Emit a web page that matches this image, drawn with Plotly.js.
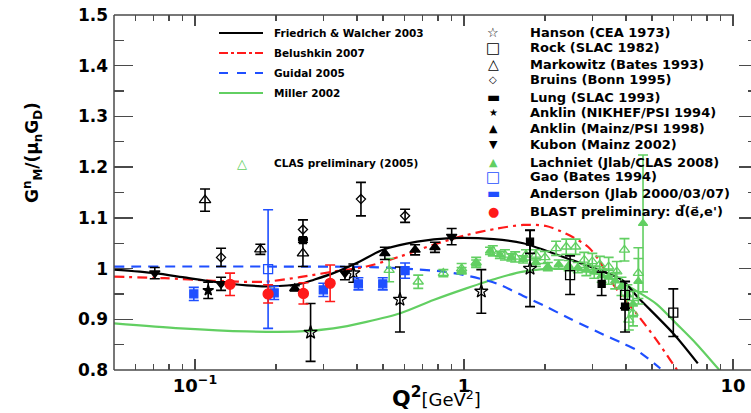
<!DOCTYPE html>
<html><head><meta charset="utf-8">
<script src="https://cdn.plot.ly/plotly-3.0.1.min.js"></script>
<style>html,body{margin:0;padding:0;overflow:hidden;background:#fff}#chart{width:770px;height:413px}</style>
</head><body><div id="chart"></div>
<script>
// ---------- theory curves ----------
const fwQ = [0.05,0.071,0.09,0.117,0.156,0.19,0.247,0.277,0.327,0.41,0.50,0.67,0.89,1.29,1.66,2.48,3.29,3.88,4.4,6.0,7.4];
const fwG = [0.998,0.991,0.983,0.974,0.967,0.965,0.970,0.978,0.991,1.014,1.037,1.053,1.060,1.058,1.050,1.018,0.994,0.977,0.945,0.872,0.813];
const beQ = [0.05,0.077,0.117,0.18,0.245,0.327,0.434,0.58,0.77,1.02,1.33,1.66,2.02,2.41,2.89,3.2,3.5,3.88,4.37,5.2,5.84,6.2];
const beG = [0.984,0.981,0.976,0.974,0.983,0.994,1.004,1.024,1.047,1.066,1.079,1.086,1.084,1.068,1.043,1.014,0.977,0.945,0.912,0.859,0.820,0.800];
const guQ = [0.05,0.2,0.45,0.6,0.84,1.05,1.33,1.66,2.0,2.48,3.29,3.88,4.39,5.37];
const guG = [1.004,1.004,1.003,1.000,0.994,0.985,0.970,0.946,0.926,0.901,0.870,0.853,0.839,0.803];
const miQ = [0.05,0.0885,0.156,0.245,0.327,0.434,0.58,0.77,1.02,1.33,1.66,2.2,2.94,3.88,4.4,5.2,6.2,7.3,8.9];
const miG = [0.892,0.882,0.876,0.876,0.882,0.895,0.912,0.938,0.961,0.981,0.994,1.000,0.994,0.971,0.955,0.930,0.890,0.852,0.800];

// ---------- data sets ----------
const hansonQ = [0.269,0.388,0.578,1.16,1.76];
const hansonG = [0.874,0.991,0.939,0.955,1.000];
const hansonE = [0.057,0.018,0.064,0.043,0.075];
const rockQ = [2.48,3.97,6.0];
const rockG = [0.987,0.948,0.913];
const rockE = [0.038,0.026,0.047];
const markQ = [0.109,0.175,0.252];
const markG = [1.135,1.038,1.030];
const markE = [0.022,0.010,0.026];
const bruinsQ = [0.125,0.252,0.414,0.604];
const bruinsG = [1.022,1.077,1.137,1.104];
const bruinsE = [0.018,0.019,0.033,0.013];
const lungQ = [0.252,1.76,3.25,3.97];
const lungG = [1.056,1.053,0.970,0.925];
const lungE = [0.004,0.023,0.023,0.050];
const anklinNQ = [0.112];
const anklinNG = [0.957];
const anklinNE = [0.016];
const anklinMQ = [0.235,0.508,0.658,0.780];
const anklinMG = [0.961,1.030,1.037,1.042];
const anklinME = [0.005,0.012,0.010,0.010];
const kubonQ = [0.0709,0.125,0.361,0.90];
const kubonG = [0.991,0.970,0.991,1.063];
const kubonE = [0.011,0.013,0.013,0.016];
const lachQ = [0.98,1.11,1.25,1.36,1.50,1.66,1.85,2.05,2.25,2.45,2.65,2.85,3.05,3.25,3.45,3.65,3.85,4.05,4.25,4.45,4.63];
const lachG = [0.996,1.010,1.035,1.027,1.022,1.018,1.012,1.004,1.008,1.006,1.002,0.997,0.993,0.986,0.983,0.976,0.965,0.948,0.930,0.975,1.089];
const lachE = [0.006,0.007,0.007,0.007,0.007,0.007,0.008,0.008,0.009,0.010,0.010,0.011,0.012,0.013,0.014,0.016,0.018,0.020,0.025,0.045,0.135];
const gaoQ = [0.187];
const gaoG = [0.999];
const gaoE = [0.117];
const andQ = [0.099,0.197,0.300,0.405,0.499,0.604];
const andG = [0.950,0.952,0.958,0.970,0.970,0.996];
const andE = [0.013,0.013,0.013,0.012,0.012,0.015];
const blastQ = [0.135,0.187,0.253,0.318];
const blastG = [0.969,0.950,0.951,0.971];
const blastE = [0.022,0.018,0.021,0.036];
const clasQ = [0.527,0.676,0.838,0.98,1.11,1.28,1.42,1.55,1.70,1.85,2.0,2.2,2.4,2.6,2.8,3.0,3.2,3.45,3.7,3.95,4.1,4.25,4.45];
const clasG = [0.997,0.974,0.991,1.000,1.012,1.035,1.027,1.023,1.027,1.027,1.022,1.040,1.043,1.043,1.017,1.014,1.008,1.004,0.994,1.037,0.899,0.912,0.991];
const clasE = [0.023,0.013,0.007,0.010,0.010,0.010,0.010,0.010,0.010,0.010,0.012,0.014,0.015,0.015,0.015,0.016,0.016,0.018,0.020,0.022,0.020,0.025,0.050];

// ---------- ticks / labels ----------
const yTickVals = [0.8,0.9,1.0,1.1,1.2,1.3,1.4,1.5];
const yTickText = ['0.8','0.9','1','1.1','1.2','1.3','1.4','1.5'];
const xTickVals = [0.1,1,10];
const xTickText = ['10<sup>\u22121</sup>','1','10'];
const xMinorVals = [0.06,0.07,0.08,0.09,0.2,0.3,0.4,0.5,0.6,0.7,0.8,0.9,2,3,4,5,6,7,8,9];

const lineLegend = ['Friedrich & Walcher 2003','Belushkin 2007','Guidal 2005','Miller 2002'];
const markerLegend = ['Hanson (CEA 1973)','Rock (SLAC 1982)','Markowitz (Bates 1993)','Bruins (Bonn 1995)',
  'Lung (SLAC 1993)','Anklin (NIKHEF/PSI 1994)','Anklin (Mainz/PSI 1998)','Kubon (Mainz 2002)',
  'Lachniet (Jlab/CLAS 2008)','Gao (Bates 1994)','Anderson (Jlab 2000/03/07)',
  'BLAST preliminary: d\u20D7(e\u20D7,e\')'];
const clasLabel = 'CLAS preliminary (2005)';

// ---------- styling ----------
const BLACK='#000000', RED='#ff1a1a', BLUE='#1f4fff', GREEN='#62cf62';
const F = 'DejaVu Sans, Verdana, sans-serif';

function curve(x,y,color,dash){
  return {x:x,y:y,type:'scatter',mode:'lines',line:{color:color,width:2.2,dash:dash,shape:'spline',smoothing:0.8},hoverinfo:'skip',showlegend:false};
}
function pts(x,y,e,symbol,color,size,ecolor){
  return {x:x,y:y,type:'scatter',mode:'markers',showlegend:false,
    marker:{symbol:symbol,color:color,size:size,line:{color:color,width:1.3}},
    error_y:{type:'data',array:e,visible:true,color:ecolor||color,thickness:1.6,width:5}};
}

const traces = [
  curve(miQ,miG,GREEN,'solid'),
  curve(guQ,guG,BLUE,'10px,7px'),
  curve(beQ,beG,RED,'10px,5px,3px,5px'),
  curve(fwQ,fwG,BLACK,'solid'),
  pts(clasQ,clasG,clasE,'triangle-up-open',GREEN,9),
  pts(lachQ,lachG,lachE,'triangle-up',GREEN,8),
  pts(hansonQ,hansonG,hansonE,'star-open',BLACK,10),
  pts(rockQ,rockG,rockE,'square-open',BLACK,9),
  pts(markQ,markG,markE,'triangle-up-open',BLACK,10),
  pts(bruinsQ,bruinsG,bruinsE,'diamond-open',BLACK,7),
  pts(lungQ,lungG,lungE,'square',BLACK,7),
  pts(anklinNQ,anklinNG,anklinNE,'star',BLACK,8),
  pts(anklinMQ,anklinMG,anklinME,'triangle-up',BLACK,9),
  pts(kubonQ,kubonG,kubonE,'triangle-down',BLACK,9),
  pts(gaoQ,gaoG,gaoE,'square-open',BLUE,9),
  pts(andQ,andG,andE,'square',BLUE,8),
  pts(blastQ,blastG,blastE,'circle',RED,10)
];

// layout geometry (pixels)
const L=114, T=15, PW=644, PH=355;
const px = p => (p-L)/PW;
const py = p => (T+PH-p)/PH;

const shapes = [
  {type:'line',xref:'paper',yref:'paper',x0:0,x1:0,y0:0,y1:1,line:{color:'#4a4a4a',width:1.5}},
  {type:'line',xref:'paper',yref:'paper',x0:0,x1:1,y0:0,y1:0,line:{color:'#4a4a4a',width:1.5}},
  {type:'line',xref:'paper',yref:'paper',x0:0,x1:px(734),y0:1,y1:1,line:{color:'#4a4a4a',width:1.5}}
];
const annotations = [];
const lineKeys = [[BLACK,'solid'],[RED,'dashdot'],[BLUE,'dash'],[GREEN,'solid']];
const lineKeyY = [33,53,73,93];
lineLegend.forEach((t,i)=>{
  shapes.push({type:'line',xref:'paper',yref:'paper',x0:px(219),x1:px(263),y0:py(lineKeyY[i]),y1:py(lineKeyY[i]),
    line:{color:lineKeys[i][0],width:2.2,dash:lineKeys[i][1]}});
  annotations.push({xref:'paper',yref:'paper',x:px(272),y:py(lineKeyY[i]),xanchor:'left',yanchor:'middle',showarrow:false,
    text:'<b>'+t+'</b>',font:{family:F,size:10.5,color:'#000'}});
});
annotations.push({xref:'paper',yref:'paper',x:px(242),y:py(163),xanchor:'center',yanchor:'middle',showarrow:false,
  text:'\u25B3',font:{family:F,size:13,color:GREEN}});
annotations.push({xref:'paper',yref:'paper',x:px(272),y:py(163),xanchor:'left',yanchor:'middle',showarrow:false,
  text:'<b>'+clasLabel+'</b>',font:{family:F,size:10.5,color:'#000'}});

const glyphs = [['\u2606',BLACK,13],['\u25A1',BLACK,15],['\u25B3',BLACK,14],['\u25C7',BLACK,10],['\u25AC',BLACK,14],
  ['\u2605',BLACK,10],['\u25B2',BLACK,11],['\u25BC',BLACK,11],['\u25B2',GREEN,11],['\u25A1',BLUE,15],['\u25AC',BLUE,14],['\u25CF',RED,13]];
const mkY = [32,48,64,80,97,113,128,144,162,177,193,212];
markerLegend.forEach((t,i)=>{
  annotations.push({xref:'paper',yref:'paper',x:px(493),y:py(mkY[i]),xanchor:'center',yanchor:'middle',showarrow:false,
    text:glyphs[i][0],font:{family:F,size:glyphs[i][2],color:glyphs[i][1]}});
  annotations.push({xref:'paper',yref:'paper',x:px(528),y:py(mkY[i]),xanchor:'left',yanchor:'middle',showarrow:false,
    text:'<b>'+t+'</b>',font:{family:F,size:13,color:'#000'}});
});
// axis titles
annotations.push({xref:'paper',yref:'paper',x:px(436),y:py(413),xanchor:'center',yanchor:'bottom',showarrow:false,
  text:'<b>Q<sup>2</sup></b><span style="font-size:18px">[GeV<sup>2</sup>]</span>',font:{family:F,size:22,color:'#000'}});
annotations.push({xref:'paper',yref:'paper',x:px(32),y:py(153),xanchor:'center',yanchor:'middle',showarrow:false,textangle:-90,
  text:'<b>G<sup>n</sup><sub>M</sub>/(\u03BC<sub>n</sub>G<sub>D</sub>)</b>',font:{family:F,size:17,color:'#000'}});

const layout = {
  width:770,height:413,
  margin:{l:L,r:770-L-PW,t:T,b:413-T-PH,pad:0},
  paper_bgcolor:'#fff',plot_bgcolor:'#fff',
  showlegend:false,
  xaxis:{type:'log',range:[Math.log10(0.05),Math.log10(0.05)+PW/269],
    tickmode:'array',tickvals:xTickVals,ticktext:xTickText,
    ticks:'inside',ticklen:11,tickwidth:1.3,tickcolor:'#4a4a4a',mirror:'ticks',showline:false,
    showgrid:false,zeroline:false,ticklabelstandoff:3,
    tickfont:{family:F,size:18,weight:'bold',color:'#000'},
    minor:{tickmode:'array',tickvals:xMinorVals,ticks:'inside',ticklen:6,tickwidth:1.3,tickcolor:'#4a4a4a',showgrid:false}},
  yaxis:{range:[0.8,1.5],tickmode:'array',tickvals:yTickVals,ticktext:yTickText,
    ticks:'inside',ticklen:19,tickwidth:1.3,tickcolor:'#4a4a4a',mirror:'ticks',showline:false,
    showgrid:false,zeroline:false,ticklabelstandoff:5,
    tickfont:{family:F,size:17,weight:'bold',color:'#000'},
    minor:{dtick:0.05,tick0:0.8,ticks:'inside',ticklen:10,tickwidth:1.3,tickcolor:'#4a4a4a',showgrid:false}},
  shapes:shapes,annotations:annotations
};
Plotly.newPlot('chart',traces,layout,{displayModeBar:false,staticPlot:true});
</script></body></html>
